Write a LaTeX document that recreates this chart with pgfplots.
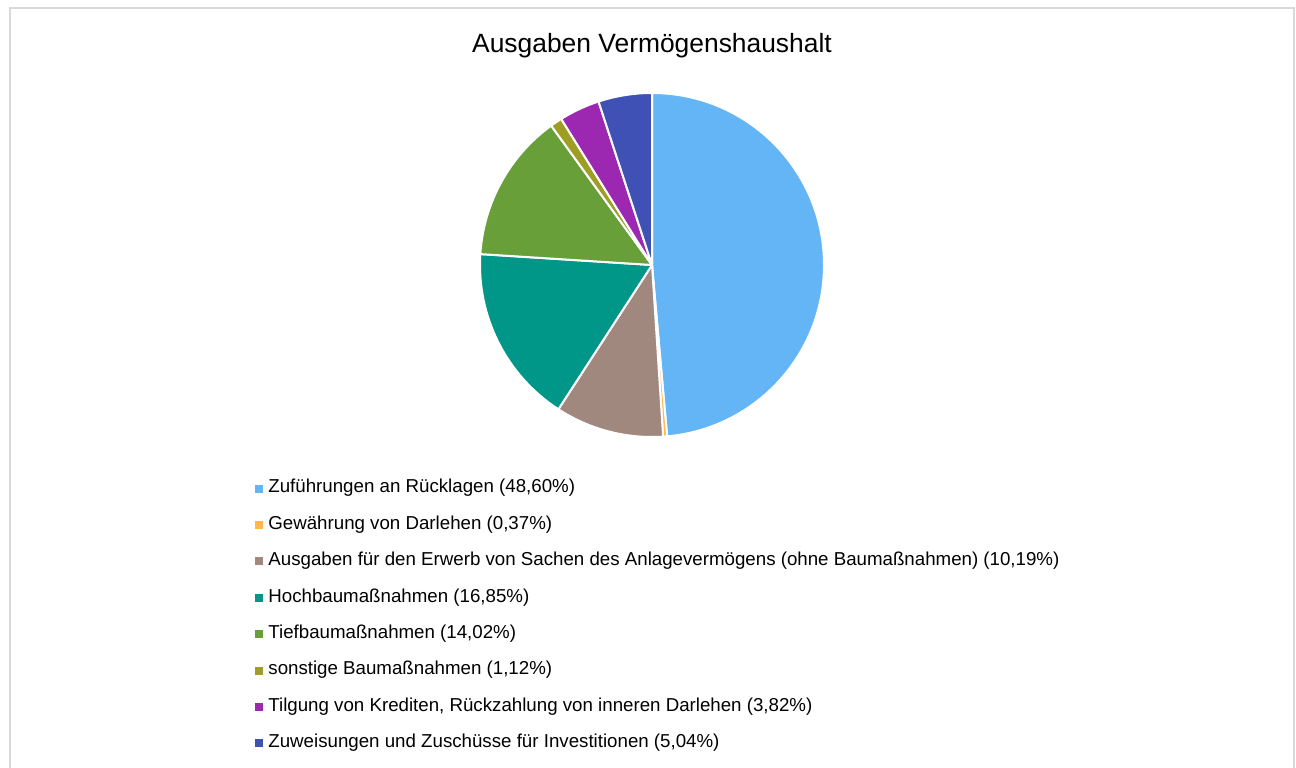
\documentclass[border=0pt]{standalone}
\usepackage{pgfplots}
\pgfplotsset{compat=1.18}
\usepackage{fontspec}
\setmainfont{Liberation Sans}
\definecolor{c1}{HTML}{64B5F6}
\definecolor{c2}{HTML}{FFB74D}
\definecolor{c3}{HTML}{A1887F}
\definecolor{c4}{HTML}{009688}
\definecolor{c5}{HTML}{689F38}
\definecolor{c6}{HTML}{9E9D24}
\definecolor{c7}{HTML}{9C27B0}
\definecolor{c8}{HTML}{3F51B5}
\definecolor{frame}{HTML}{D9D9D9}
% shares in percent
\def\vA{48.60}\def\vB{0.37}\def\vC{10.19}\def\vD{16.85}
\def\vE{14.02}\def\vF{1.12}\def\vG{3.82}\def\vH{5.04}
\newcommand{\slice}[3]{%
  \fill[#3, draw=white, line width=1pt, line join=round]
    (axis cs:652,502) -- ++({90-3.6*(#1)}:86pt)
    arc[start angle={90-3.6*(#1)}, delta angle={-3.6*(#2)}, radius=86pt] -- cycle;}
\begin{document}
\begin{tikzpicture}
\begin{axis}[
  scale only axis, width=648pt, height=383.5pt,
  xmin=0, xmax=1296, ymin=0, ymax=767,
  hide axis, clip=true,
  legend image code/.code={\fill[#1] (0pt,-1.75pt) rectangle (3.5pt,1.75pt);},
  legend style={at={(axis cs:255,287.5)}, anchor=north west, draw=none, fill=none,
    inner sep=0pt, font=\fontsize{9.35pt}{11pt}\selectfont,
    row sep=9.7pt, column sep=2.6pt,
    nodes={inner sep=0pt, text height=6.5pt, text depth=2pt}},
  legend cell align=left,
]
\fill[white] (axis cs:0,0) rectangle (axis cs:1296,767);
\draw[frame, line width=1pt] (axis cs:9.5,-10) -- (axis cs:9.5,758.5) -- (axis cs:1293.5,758.5) -- (axis cs:1293.5,-10);
\node[anchor=base, font=\fontsize{13.2pt}{15pt}\selectfont] at (axis cs:652,714) {Ausgaben Vermögenshaushalt};
\slice{0}{\vA}{c1}
\slice{\vA}{\vB}{c2}
\slice{\vA+\vB}{\vC}{c3}
\slice{\vA+\vB+\vC}{\vD}{c4}
\slice{\vA+\vB+\vC+\vD}{\vE}{c5}
\slice{\vA+\vB+\vC+\vD+\vE}{\vF}{c6}
\slice{\vA+\vB+\vC+\vD+\vE+\vF}{\vG}{c7}
\slice{\vA+\vB+\vC+\vD+\vE+\vF+\vG}{\vH}{c8}
\addlegendimage{c1}\addlegendentry{Zuführungen an Rücklagen (48,60\%)}
\addlegendimage{c2}\addlegendentry{Gewährung von Darlehen (0,37\%)}
\addlegendimage{c3}\addlegendentry{Ausgaben für den Erwerb von Sachen des Anlagevermögens (ohne Baumaßnahmen) (10,19\%)}
\addlegendimage{c4}\addlegendentry{Hochbaumaßnahmen (16,85\%)}
\addlegendimage{c5}\addlegendentry{Tiefbaumaßnahmen (14,02\%)}
\addlegendimage{c6}\addlegendentry{sonstige Baumaßnahmen (1,12\%)}
\addlegendimage{c7}\addlegendentry{Tilgung von Krediten, Rückzahlung von inneren Darlehen (3,82\%)}
\addlegendimage{c8}\addlegendentry{Zuweisungen und Zuschüsse für Investitionen (5,04\%)}
\end{axis}
\end{tikzpicture}
\end{document}
